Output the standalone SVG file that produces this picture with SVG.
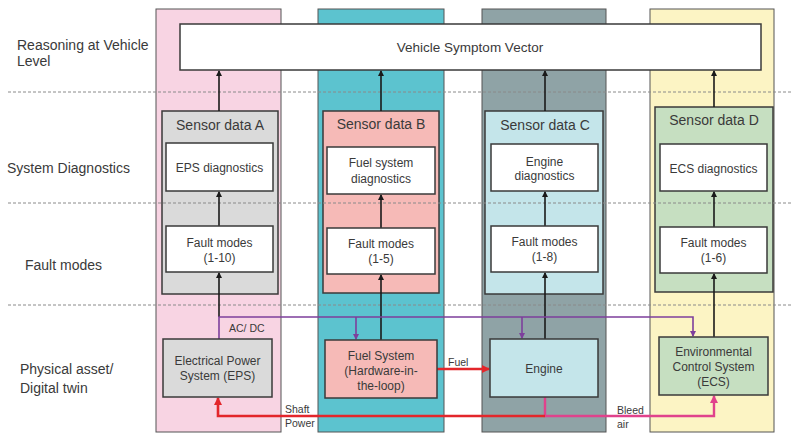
<svg xmlns="http://www.w3.org/2000/svg" width="792" height="434" viewBox="0 0 792 434">
<style>
text{font-family:"Liberation Sans",Arial,sans-serif;fill:#3a3a3a;}
.lbl{font-size:14px;}
.t{font-size:12px;text-anchor:middle;}
.sd{font-size:14px;text-anchor:middle;}
.sm{font-size:10.5px;}
.panel{stroke:#555;stroke-width:1;}
.box{stroke:#3a3a3a;stroke-width:1.5;}
.wb{fill:#fff;stroke:#3a3a3a;stroke-width:1.5;}
.sep{stroke:#8a8a8a;stroke-width:1;stroke-dasharray:3 2;fill:none;}
.blk{stroke:#1a1a1a;stroke-width:1.6;fill:none;}
.pur{stroke:#7d3f9c;stroke-width:1.6;fill:none;}
.red{stroke:#e3262b;stroke-width:2.6;fill:none;}
.pnk{stroke:#e0428c;stroke-width:2.4;fill:none;}
</style>
<defs>
<marker id="ab" markerWidth="6" markerHeight="6" refX="5" refY="3" orient="auto" markerUnits="userSpaceOnUse"><path d="M0,0 L6,3 L0,6 z" fill="#1a1a1a"/></marker>
<marker id="ap" markerWidth="6" markerHeight="6" refX="5" refY="3" orient="auto" markerUnits="userSpaceOnUse"><path d="M0,0 L6,3 L0,6 z" fill="#7d3f9c"/></marker>
<marker id="ar" markerWidth="8" markerHeight="8" refX="7" refY="4" orient="auto" markerUnits="userSpaceOnUse"><path d="M0,0 L8,4 L0,8 z" fill="#e3262b"/></marker>
<marker id="ak" markerWidth="8" markerHeight="8" refX="7" refY="4" orient="auto" markerUnits="userSpaceOnUse"><path d="M0,0 L8,4 L0,8 z" fill="#e0428c"/></marker>
</defs>

<g id="panels">
<rect class="panel" x="156" y="9" width="125" height="423" fill="#f8d4e3"/>
<rect class="panel" x="318" y="9" width="126" height="423" fill="#5cc3cf"/>
<rect class="panel" x="482" y="9" width="124" height="423" fill="#8fa3a6"/>
<rect class="panel" x="650" y="9" width="124" height="423" fill="#fcf4c4"/>
</g>

<g id="layer-labels">
<text class="lbl" x="17" y="50">Reasoning at Vehicle</text>
<text class="lbl" x="17" y="66">Level</text>
<text class="lbl" x="7" y="173">System Diagnostics</text>
<text class="lbl" x="25" y="270">Fault modes</text>
<text class="lbl" x="20" y="374">Physical asset/</text>
<text class="lbl" x="20" y="393">Digital twin</text>
</g>

<g id="sensor-a"><rect class="box" x="162" y="111" width="116" height="183" fill="#dadada"/><text class="sd" x="220" y="130">Sensor data A</text></g>
<g id="sensor-b"><rect class="box" x="323" y="111" width="116" height="182" fill="#f6bab7"/><text class="sd" x="381" y="129">Sensor data B</text></g>
<g id="sensor-c"><rect class="box" x="485" y="111" width="118" height="183" fill="#c4e5ea"/><text class="sd" x="545" y="130">Sensor data C</text></g>
<g id="sensor-d"><rect class="box" x="655" y="107" width="118" height="185" fill="#c6dfc1"/><text class="sd" x="714" y="125">Sensor data D</text></g>

<g id="separators">
<line class="sep" x1="8" y1="92" x2="792" y2="92"/>
<line class="sep" x1="8" y1="203" x2="792" y2="203"/>
<line class="sep" x1="8" y1="305" x2="792" y2="305"/>
</g>

<g id="connectors">
<line class="blk" x1="219" y1="111" x2="219" y2="71" marker-end="url(#ab)"/>
<line class="blk" x1="381" y1="111" x2="381" y2="71" marker-end="url(#ab)"/>
<line class="blk" x1="545" y1="111" x2="545" y2="71" marker-end="url(#ab)"/>
<line class="blk" x1="714" y1="107" x2="714" y2="71" marker-end="url(#ab)"/>
<line class="blk" x1="219" y1="226" x2="219" y2="192" marker-end="url(#ab)"/>
<line class="blk" x1="381" y1="228" x2="381" y2="195" marker-end="url(#ab)"/>
<line class="blk" x1="545" y1="226" x2="545" y2="192" marker-end="url(#ab)"/>
<line class="blk" x1="714" y1="227" x2="714" y2="192" marker-end="url(#ab)"/>
<line class="blk" x1="219" y1="317" x2="219" y2="273" marker-end="url(#ab)"/>
<line class="blk" x1="381" y1="340" x2="381" y2="275" marker-end="url(#ab)"/>
<line class="blk" x1="545" y1="339" x2="545" y2="273" marker-end="url(#ab)"/>
<line class="blk" x1="714" y1="337" x2="714" y2="274" marker-end="url(#ab)"/>
<path class="pur" d="M219,339 V317 H693 V336" marker-end="url(#ap)"/>
<line class="pur" x1="356" y1="317" x2="356" y2="339" marker-end="url(#ap)"/>
<line class="pur" x1="522" y1="317" x2="522" y2="338" marker-end="url(#ap)"/>
<line class="red" x1="437" y1="369" x2="489" y2="369" marker-end="url(#ar)"/>
<path class="pnk" d="M545,397 V416 H714 V396" marker-end="url(#ak)"/>
<path class="red" d="M545,416 H218 V398" marker-end="url(#ar)"/>
<text class="sm" x="229" y="332">AC/ DC</text>
<text class="sm" x="448" y="366">Fuel</text>
<text class="sm" x="285" y="413">Shaft</text>
<text class="sm" x="285" y="427">Power</text>
<text class="sm" x="617" y="414">Bleed</text>
<text class="sm" x="617" y="428">air</text>
</g>

<g id="vehicle-symptom-vector"><rect class="wb" x="180" y="24" width="581" height="46"/><text class="t" x="470" y="52" style="font-size:13.5px">Vehicle Symptom Vector</text></g>

<g id="eps-diag"><rect class="wb" x="166" y="143" width="107" height="48"/><text class="t" x="219.5" y="172">EPS diagnostics</text></g>
<g id="fuel-diag"><rect class="wb" x="327" y="147" width="108" height="47"/><text class="t" x="381" y="167">Fuel system</text><text class="t" x="381" y="183">diagnostics</text></g>
<g id="engine-diag"><rect class="wb" x="491" y="144" width="107" height="47"/><text class="t" x="544.5" y="166">Engine</text><text class="t" x="544.5" y="180">diagnostics</text></g>
<g id="ecs-diag"><rect class="wb" x="660" y="144" width="107" height="47"/><text class="t" x="713.5" y="173">ECS diagnostics</text></g>

<g id="fault-a"><rect class="wb" x="166" y="226" width="107" height="46"/><text class="t" x="219.5" y="247">Fault modes</text><text class="t" x="219.5" y="262">(1-10)</text></g>
<g id="fault-b"><rect class="wb" x="327" y="228" width="108" height="46"/><text class="t" x="381" y="248">Fault modes</text><text class="t" x="381" y="263">(1-5)</text></g>
<g id="fault-c"><rect class="wb" x="491" y="226" width="107" height="46"/><text class="t" x="544.5" y="246">Fault modes</text><text class="t" x="544.5" y="261">(1-8)</text></g>
<g id="fault-d"><rect class="wb" x="660" y="227" width="107" height="46"/><text class="t" x="713.5" y="247">Fault modes</text><text class="t" x="713.5" y="262">(1-6)</text></g>

<g id="eps"><rect class="box" x="163" y="339" width="109" height="58" fill="#dadada"/><text class="t" x="217.5" y="365">Electrical Power</text><text class="t" x="217.5" y="380">System (EPS)</text></g>
<g id="fuel-system"><rect class="box" x="325" y="340" width="112" height="58" fill="#f6bab7"/><text class="t" x="381" y="360">Fuel System</text><text class="t" x="381" y="375">(Hardware-in-</text><text class="t" x="381" y="390">the-loop)</text></g>
<g id="engine"><rect class="box" x="490" y="339" width="108" height="58" fill="#c4e5ea"/><text class="t" x="544" y="373">Engine</text></g>
<g id="ecs"><rect class="box" x="659" y="337" width="109" height="58" fill="#c6dfc1"/><text class="t" x="713.5" y="356">Environmental</text><text class="t" x="713.5" y="371">Control System</text><text class="t" x="713.5" y="386">(ECS)</text></g>
</svg>
